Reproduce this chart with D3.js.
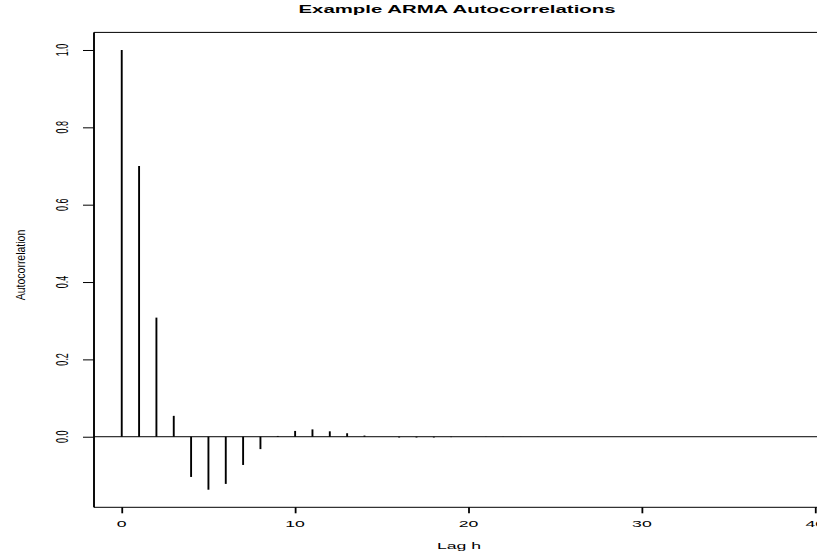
<!doctype html>
<meta charset="utf-8">
<script src="https://d3js.org/d3.v7.min.js"></script>
<style>
body { margin: 0; background: #fff; }
text { font-family: "Liberation Sans", Arial, sans-serif; fill: #000; }
</style>
<body></body>
<script>

var width = 817;
var height = 554;

// chart data
var lags = d3.range(0, 41);
var acf = [1.000, 0.700, 0.308, 0.054, -0.104, -0.137, -0.122, -0.073, -0.032, 0.002,
           0.015, 0.019, 0.014, 0.009, 0.003, 0.000, -0.002, -0.002, -0.002, -0.001,
           0.000, 0.0004, 0.0004, 0.0003, 0.0002, 0.0001, 0.0000, -0.0001, -0.0001, -0.0001,
           0.0000, 0.0000, 0.0000, 0.0000, 0.0000, 0.0000, 0.0000, 0.0000, 0.0000, 0.0000, 0.0000];
var xTicks = [0, 10, 20, 30, 40];
var yTicks = [0.0, 0.2, 0.4, 0.6, 0.8, 1.0];

var title = "Example ARMA Autocorrelations";
var xLabel = "Lag h";
var yLabel = "Autocorrelation";

// plot box (the right side runs off the picture, as in the original)
var box = {left: 94, right: 843, top: 32.4, bottom: 507.3};
var sx = 1.9; // text is stretched horizontally in the reference

var xPad = 0.04 * (d3.max(lags) - d3.min(lags));
var x = d3.scaleLinear()
        .domain([d3.min(lags) - xPad, d3.max(lags) + xPad])
        .range([box.left, box.right]);

var yMin = d3.min(acf), yMax = d3.max(acf);
var yPad = 0.04 * (yMax - yMin);
var y = d3.scaleLinear()
        .domain([yMin - yPad, yMax + yPad])
        .range([box.bottom, box.top]);

var svg = d3.select("body")
        .append("svg")
        .attr("width", width)
        .attr("height", height);

svg.append("rect")
        .attr("width", width)
        .attr("height", height)
        .style("fill", "#fff");

// zero line
svg.append("line")
        .attr("x1", box.left).attr("x2", width)
        .attr("y1", y(0)).attr("y2", y(0))
        .style("stroke", "#000")
        .style("stroke-width", 1);

// spikes
svg.selectAll("line.spike")
        .data(lags)
        .enter().append("line")
        .classed("spike", true)
        .attr("x1", function(d) { return x(d); })
        .attr("x2", function(d) { return x(d); })
        .attr("y1", y(0))
        .attr("y2", function(d, i) { return y(acf[i]); })
        .style("stroke", "#000")
        .style("stroke-width", 1.9);

// box
svg.append("path")
        .attr("d", "M" + box.right + "," + box.top + "H" + box.left + "V" + box.bottom + "H" + box.right)
        .style("fill", "none")
        .style("stroke", "#000")
        .style("stroke-width", 1);
svg.append("line")
        .attr("x1", box.left).attr("x2", box.left)
        .attr("y1", box.top).attr("y2", box.bottom)
        .style("stroke", "#000")
        .style("stroke-width", 1.8);

// x axis
var xAxis = svg.append("g")
        .attr("transform", "translate(0," + box.bottom + ")")
        .call(d3.axisBottom(x).tickValues(xTicks).tickSize(6).tickFormat(""));
xAxis.select(".domain").remove();
xAxis.selectAll(".tick line").style("stroke", "#000").style("stroke-width", 1.8);

svg.selectAll("text.xtick")
        .data(xTicks)
        .enter().append("text")
        .classed("xtick", true)
        .attr("transform", function(d) { return "translate(" + x(d) + ",527.3) scale(" + sx + ",1)"; })
        .attr("text-anchor", "middle")
        .style("font-size", "9.3px")
        .text(function(d) { return d; });

// y axis
var yAxis = svg.append("g")
        .attr("transform", "translate(" + box.left + ",0)")
        .call(d3.axisLeft(y).tickValues(yTicks).tickSize(11).tickFormat(""));
yAxis.select(".domain").remove();
yAxis.selectAll(".tick line").style("stroke", "#000").style("stroke-width", 1);

svg.selectAll("text.ytick")
        .data(yTicks)
        .enter().append("text")
        .classed("ytick", true)
        .attr("transform", function(d) { return "translate(68," + y(d) + ") rotate(-90) scale(1," + sx + ")"; })
        .attr("text-anchor", "middle")
        .style("font-size", "9px")
        .text(function(d) { return d3.format(".1f")(d); });

// titles
svg.append("text")
        .attr("transform", "translate(457,12.8) scale(2,1)")
        .attr("text-anchor", "middle")
        .style("font-size", "10.2px")
        .style("font-weight", "bold")
        .text(title);

svg.append("text")
        .attr("transform", "translate(459,549.3) scale(1.8,1)")
        .attr("text-anchor", "middle")
        .style("font-size", "9.8px")
        .text(xLabel);

svg.append("text")
        .attr("transform", "translate(24.5,265) rotate(-90) scale(1,1.3)")
        .attr("text-anchor", "middle")
        .style("font-size", "10.5px")
        .text(yLabel);

</script>
